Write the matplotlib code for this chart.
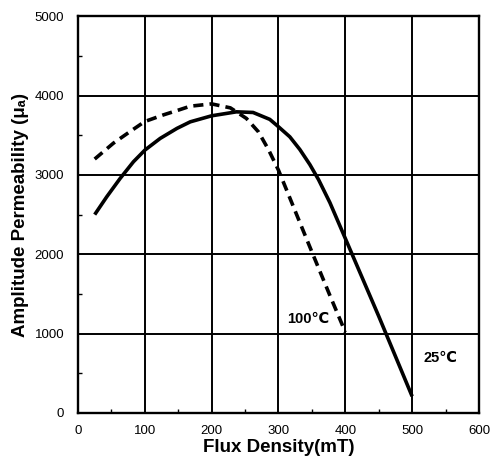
import numpy as np
import matplotlib
matplotlib.use('Agg')
import matplotlib.pyplot as plt
from matplotlib.ticker import MultipleLocator

plt.rcParams['font.family'] = ['Liberation Sans', 'DejaVu Sans']

# 25 C curve (solid)
flux_25 = [25, 43, 63, 83, 100, 123, 148, 168, 200, 237, 262, 287, 300, 317, 332, 347, 360, 377, 400, 450, 500]
perm_25 = [2500, 2724, 2955, 3166, 3312, 3460, 3586, 3669, 3745, 3795, 3787, 3700, 3607, 3480, 3320, 3130, 2940, 2650, 2200, 1220, 210]

# 100 C curve (dashed)
flux_100 = [25, 53, 78, 100, 128, 150, 168, 200, 228, 252, 270, 285, 300, 317, 332, 350, 377, 400]
perm_100 = [3200, 3400, 3547, 3673, 3757, 3816, 3866, 3895, 3845, 3712, 3543, 3320, 3060, 2710, 2400, 2030, 1480, 1020]

x_ticks = [0, 100, 200, 300, 400, 500, 600]
y_ticks = [0, 1000, 2000, 3000, 4000, 5000]


def main():
  fig = plt.figure(figsize=(4.92, 4.63), dpi=100)
  ax = fig.add_axes([0.1585, 0.108, 0.815, 0.857])

  ax.plot(flux_25, perm_25, color='black', lw=2.6, solid_capstyle='butt',
          solid_joinstyle='round', zorder=3)
  ax.plot(flux_100, perm_100, color='black', lw=2.6, dashes=(2.8, 1.7),
          dash_capstyle='butt', dash_joinstyle='round', zorder=3)

  ax.set_xlim(0, 600)
  ax.set_ylim(0, 5000)
  ax.set_xticks(x_ticks)
  ax.set_yticks(y_ticks)
  ax.xaxis.set_minor_locator(MultipleLocator(50))
  ax.yaxis.set_minor_locator(MultipleLocator(500))

  ax.grid(True, which='major', color='black', lw=1.4)
  ax.tick_params(which='major', length=0, labelsize=9.5)
  ax.tick_params(axis='x', which='major', pad=9)
  ax.tick_params(axis='y', which='major', pad=10)
  ax.tick_params(which='minor', direction='in', length=3, width=1, color='black')
  for s in ax.spines.values():
    s.set_linewidth(1.7)
    s.set_color('black')

  ax.text(344, 1180, '100℃', fontsize=10.5, fontweight='bold', ha='center', va='center')
  ax.text(542, 690, '25℃', fontsize=10.5, fontweight='bold', ha='center', va='center')

  ax.set_xlabel('Flux Density(mT)', fontsize=13.5, fontweight='bold', labelpad=1)
  ax.set_ylabel('Amplitude Permeability (μₐ)', fontsize=13.5, fontweight='bold', labelpad=4)

  fig.savefig('out.png', dpi=100)


if __name__ == "__main__":
  main()
